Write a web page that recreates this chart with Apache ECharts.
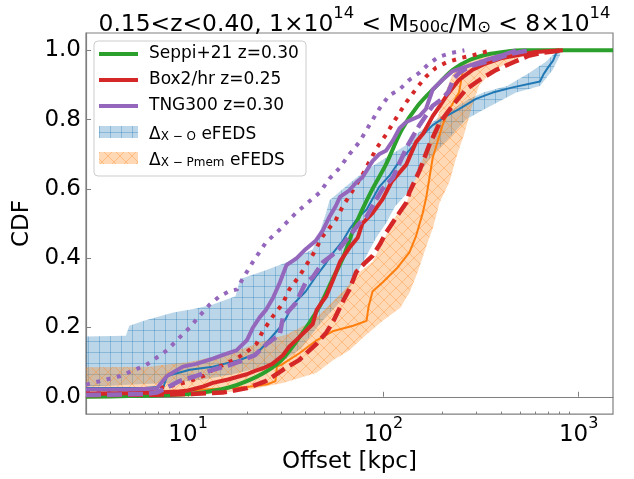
<!DOCTYPE html>
<html>
<head>
<meta charset="utf-8">
<script src="https://cdn.jsdelivr.net/npm/echarts@6.0.0/dist/echarts.min.js"></script>
<style>
  html, body { margin: 0; padding: 0; background: #ffffff; }
  #main { width: 634px; height: 479px; }
</style>
</head>
<body>
<div id="main"></div>
<script>
// ---- Cumulative offset distributions, [offset in kpc, CDF] ----
const seppiZ030 = [[3,0.0],[5,0.002],[7,0.004],[10,0.008],[13,0.016],[16,0.026],[20,0.045],[25,0.072],[30,0.105],[37,0.17],[47,0.26],[55,0.34],[62,0.40],[70,0.48],[78,0.54],[88,0.60],[103,0.67],[124,0.77],[150,0.84],[186,0.896],[226,0.943],[276,0.972],[340,0.988],[420,0.996],[520,1.0],[1500,1.0]];

const box2Solid = [[3,0.008],[5,0.01],[7,0.012],[9,0.015],[10,0.018],[12,0.03],[13.4,0.04],[16,0.05],[20,0.065],[22,0.075],[24.4,0.083],[27,0.095],[30.6,0.12],[33,0.145],[36,0.165],[40,0.19],[43.5,0.21],[45.5,0.25],[48,0.27],[51,0.29],[55.5,0.34],[60,0.39],[67,0.43],[74,0.46],[78,0.5],[88,0.53],[99,0.57],[110,0.62],[131,0.67],[147,0.735],[160,0.76],[179,0.81],[195,0.84],[210,0.868],[244,0.915],[285,0.943],[334,0.962],[400,0.977],[483,0.986],[600,0.995],[830,1.0]];

const box2Dashed = [[3,0.005],[7,0.006],[10,0.008],[15,0.012],[20,0.025],[25,0.045],[30.6,0.078],[37,0.106],[45.5,0.153],[51,0.185],[55.5,0.219],[62,0.275],[67,0.31],[72.6,0.36],[80,0.385],[88,0.407],[96,0.44],[103,0.473],[117,0.52],[131,0.56],[136,0.59],[153,0.652],[172,0.727],[194,0.79],[226,0.84],[265,0.887],[312,0.915],[376,0.943],[470,0.967],[560,0.985],[650,0.993],[830,1.0]];

const box2Dotted = [[3,0.018],[6,0.02],[7,0.025],[8,0.03],[10.2,0.045],[12,0.06],[13.4,0.078],[15.5,0.095],[17.7,0.11],[20,0.13],[22.4,0.153],[24,0.187],[27,0.23],[30.6,0.27],[33,0.31],[37.3,0.35],[43.5,0.41],[49,0.464],[57,0.51],[62,0.55],[67,0.58],[78,0.64],[85,0.68],[93,0.72],[103,0.756],[115,0.80],[131,0.85],[150,0.895],[166,0.925],[186,0.95],[210,0.965],[250,0.978],[285,0.985],[330,0.995],[360,1.0]];

const tngSolid = [[3,0.021],[5,0.021],[6.9,0.024],[7.8,0.06],[9.4,0.087],[11,0.095],[13.4,0.11],[15,0.12],[17.7,0.134],[20,0.163],[21.5,0.2],[23.3,0.23],[25,0.25],[27.2,0.285],[29.5,0.33],[31.9,0.38],[36,0.40],[40,0.426],[45,0.45],[49,0.48],[53,0.52],[57,0.55],[60,0.577],[67,0.596],[73,0.62],[78,0.633],[88,0.68],[95,0.70],[103,0.71],[112,0.74],[121,0.775],[131,0.793],[153,0.81],[165,0.83],[179,0.887],[201,0.915],[225,0.939],[265,0.953],[334,0.972],[400,0.985],[478,1.0]];

const tngDashed = [[3,0.005],[6,0.008],[6.9,0.012],[8,0.03],[9.1,0.046],[11,0.06],[13.4,0.078],[16,0.09],[18,0.1],[22,0.12],[25,0.15],[29.5,0.18],[30.6,0.23],[33,0.25],[35.6,0.27],[40,0.33],[43.5,0.345],[49,0.388],[55,0.41],[60,0.43],[67,0.464],[75,0.5],[82,0.52],[90,0.56],[99,0.6],[112,0.633],[131,0.718],[153,0.784],[179,0.84],[200,0.86],[215,0.88],[230,0.92],[245,0.935],[276,0.953],[363,0.972],[450,0.99],[560,1.0]];

const tngDotted = [[3,0.035],[4.5,0.06],[6.1,0.092],[7.8,0.134],[9,0.17],[10.2,0.2],[11.5,0.235],[12.9,0.266],[14.5,0.29],[16.3,0.305],[17.8,0.31],[19,0.34],[21.4,0.388],[25,0.445],[29.5,0.483],[35.6,0.53],[40,0.555],[47.3,0.59],[53,0.63],[59.6,0.66],[67,0.70],[75.3,0.735],[85,0.785],[95,0.83],[107,0.87],[121,0.887],[136,0.915],[152,0.934],[170,0.96],[192,0.981],[220,0.992],[260,1.0]];

// eFEDS X-ray to optical offsets: median CDF and its envelope
const xoMedian = [[3,0.025],[6,0.025],[7.5,0.03],[7.8,0.06],[10.2,0.078],[13.4,0.087],[18.4,0.106],[22.4,0.125],[25,0.153],[29.5,0.2],[32,0.23],[34.4,0.266],[40,0.304],[45.5,0.35],[50,0.38],[55.5,0.417],[62,0.45],[67,0.483],[75,0.52],[82,0.54],[95,0.605],[108,0.64],[121,0.68],[135,0.71],[153,0.746],[179,0.784],[210,0.81],[244,0.83],[298,0.86],[363,0.878],[460,0.893],[634,0.91],[660,0.93],[696,0.95],[740,0.97],[765,0.99],[790,1.0]];
const xoUpper = [[3,0.174],[4.8,0.176],[5,0.205],[6,0.22],[8.4,0.243],[11,0.255],[13.4,0.266],[17.5,0.29],[18.5,0.34],[25,0.365],[32,0.388],[43.5,0.426],[47,0.473],[50.8,0.53],[53,0.567],[62,0.6],[72,0.63],[85,0.66],[103,0.69],[131,0.727],[153,0.765],[186,0.80],[226,0.83],[276,0.86],[330,0.88],[430,0.897],[560,0.935],[680,0.967],[765,0.995],[790,1.0]];
const xoLower = [[3,0.03],[8,0.04],[12,0.05],[17,0.065],[21,0.078],[30,0.10],[38,0.14],[45,0.195],[49,0.22],[57,0.26],[65,0.30],[78,0.385],[92,0.46],[103,0.5],[115,0.55],[136,0.595],[150,0.64],[180,0.70],[220,0.75],[265,0.80],[320,0.826],[396,0.854],[478,0.878],[634,0.897],[736,0.943],[803,0.986],[810,1.0]];

// eFEDS X-ray to member-probability-weighted offsets
const xpMedian = [[3,0.012],[10,0.018],[20,0.028],[25.5,0.036],[28,0.045],[28.5,0.087],[30,0.092],[37,0.125],[45.5,0.163],[55.5,0.19],[70,0.205],[82,0.219],[84,0.26],[88,0.304],[99,0.33],[117,0.37],[136,0.417],[147,0.464],[159,0.53],[166,0.577],[179,0.69],[201,0.784],[218,0.83],[244,0.878],[254,0.934],[270,0.955],[350,0.975],[500,0.99],[650,1.0]];
const xpUpper = [[3,0.085],[6.5,0.087],[7,0.09],[10,0.10],[16.3,0.125],[25,0.163],[32,0.18],[43.5,0.219],[49,0.247],[62,0.304],[75.7,0.36],[88,0.39],[100,0.45],[112,0.51],[131,0.558],[147,0.633],[186,0.79],[205,0.87],[226,0.93],[250,0.955],[300,0.98],[400,0.995],[480,1.0]];
const xpLower = [[3,-0.005],[10,0.0],[20.7,0.021],[30.6,0.04],[45.5,0.069],[55.5,0.106],[67,0.134],[82,0.18],[99,0.219],[122,0.257],[136,0.30],[150,0.36],[165,0.43],[180,0.49],[194,0.56],[218,0.62],[236,0.69],[260,0.76],[285,0.84],[310,0.90],[360,0.94],[480,0.975],[560,0.99],[650,1.0]];

// ---- Axis ticks ----
const xMajorTicks = [10, 100, 1000];
const xMajorExponents = ['1', '2', '3'];
const xMinorTicks = [3,4,5,6,7,8,9,20,30,40,50,60,70,80,90,200,300,400,500,600,700,800,900];
const yTicks = [0, 0.2, 0.4, 0.6, 0.8, 1.0];

// ---- Legend entries ----
const legendLabels = ['Seppi+21 z=0.30', 'Box2/hr z=0.25', 'TNG300 z=0.30'];

const FONT = 'DejaVu Sans';
const C = { blue: '#1f77b4', orange: '#ff7f0e', green: '#2ca02c', red: '#d62728', purple: '#9467bd' };

// Hatched translucent fills (grid for X-O, crosses for X-Pmem)
function hatchPattern(kind, size, fill, stroke) {
  const cv = document.createElement('canvas');
  cv.width = size; cv.height = size;
  const g = cv.getContext('2d');
  g.fillStyle = fill;
  g.fillRect(0, 0, size, size);
  g.strokeStyle = stroke;
  g.lineWidth = 1;
  g.beginPath();
  if (kind === 'grid') {
    g.moveTo(0.5, 0); g.lineTo(0.5, size);
    g.moveTo(0, 0.5); g.lineTo(size, 0.5);
  } else {
    g.moveTo(0, 0); g.lineTo(size, size);
    g.moveTo(size, 0); g.lineTo(0, size);
  }
  g.stroke();
  return { image: cv, repeat: 'repeat' };
}
const bluePattern = hatchPattern('grid', 11, 'rgba(31,119,180,0.3)', 'rgba(31,119,180,0.33)');
const orangePattern = hatchPattern('cross', 12, 'rgba(255,127,14,0.3)', 'rgba(255,127,14,0.33)');

function bandSeries(name, upper, lower, pattern) {
  const outline = upper.concat(lower.slice().reverse());
  return {
    type: 'custom', name: name, silent: true, clip: true,
    data: [upper[0]],
    renderItem: function (params, api) {
      return {
        type: 'polygon',
        shape: { points: outline.map(function (p) { return api.coord(p); }) },
        style: { fill: pattern, stroke: null }
      };
    }
  };
}

function lineSeries(name, data, color, width, dash, smooth) {
  return {
    type: 'line', name: name, data: data, symbol: 'none', silent: true,
    smooth: smooth || false, clip: true,
    lineStyle: { color: color, width: width, type: dash || 'solid', cap: 'butt', join: 'round' }
  };
}

function richSet(base, small) {
  return {
    b: { fontFamily: FONT, fontSize: base, fontWeight: 'normal', color: '#000', lineHeight: 30, verticalAlign: 'bottom' },
    p: { fontFamily: FONT, fontSize: small, fontWeight: 'normal', color: '#000', lineHeight: 20, verticalAlign: 'top' },
    s: { fontFamily: FONT, fontSize: small, fontWeight: 'normal', color: '#000', lineHeight: 17, verticalAlign: 'bottom' }
  };
}
const axisRich = richSet(23, 16);
const titleRich = richSet(23.4, 16.4);

// Legend drawn as a framed block of line samples, hatched patches and labels
const legX = 94, legY = 41, rowY = [54, 80, 106, 132, 158];
const legendGraphics = [
  { type: 'rect', shape: { x: legX, y: legY, width: 212, height: 135, r: 4 },
    style: { fill: 'rgba(255,255,255,0.8)', stroke: '#cccccc', lineWidth: 1 }, z: 100 }
];
[C.green, C.red, C.purple].forEach(function (col, i) {
  legendGraphics.push({ type: 'line', shape: { x1: 99, y1: rowY[i], x2: 138, y2: rowY[i] },
    style: { stroke: col, lineWidth: 4 }, z: 101 });
  legendGraphics.push({ type: 'text', x: 149, y: rowY[i],
    style: { text: legendLabels[i], fontFamily: FONT, fontSize: 17, fill: '#000', verticalAlign: 'middle' }, z: 101 });
});
[[bluePattern, '{d|Δ}{s|X − O}{d| eFEDS}'], [orangePattern, '{d|Δ}{s|X − Pmem}{d| eFEDS}']].forEach(function (e, j) {
  const y = rowY[3 + j];
  legendGraphics.push({ type: 'rect', shape: { x: 99, y: y - 6, width: 39, height: 12 },
    style: { fill: e[0] }, z: 101 });
  legendGraphics.push({ type: 'text', x: 149, y: y,
    style: { text: e[1], verticalAlign: 'middle', fill: '#000',
      rich: {
        d: { fontFamily: FONT, fontSize: 17, lineHeight: 22, verticalAlign: 'bottom', fill: '#000' },
        s: { fontFamily: FONT, fontSize: 12, lineHeight: 13, verticalAlign: 'bottom', fill: '#000' }
      } }, z: 101 });
});

const chart = echarts.init(document.getElementById('main'), null, { renderer: 'canvas' });
chart.setOption({
  animation: false,
  backgroundColor: '#ffffff',
  title: {
    text: '{b|0.15<z<0.40, 1×10}{p|14}{b| < M}{s|500c}{b|/M}{s|⊙}{b| < 8×10}{p|14}',
    left: 349.5, top: 1, textAlign: 'center',
    textStyle: { fontWeight: 'normal', rich: titleRich }
  },
  grid: { left: 86, right: 21, top: 33, bottom: 57, show: true, borderColor: '#808080', borderWidth: 1.2, backgroundColor: 'transparent' },
  xAxis: [
    {
      type: 'log', logBase: 10, min: 3, max: 1500,
      axisLine: { show: true, lineStyle: { color: '#808080', width: 1.2 } },
      axisTick: { show: true, inside: true, length: 5, customValues: xMajorTicks, lineStyle: { color: '#808080' } },
      axisLabel: {
        customValues: xMajorTicks, margin: 2,
        formatter: function (v) {
          const i = xMajorTicks.indexOf(Math.round(v));
          return '{b|10}{p|' + xMajorExponents[i] + '}';
        },
        rich: axisRich
      },
      splitLine: { show: false },
      name: 'Offset [kpc]', nameLocation: 'middle', nameGap: 33,
      nameTextStyle: { fontFamily: FONT, fontSize: 23, color: '#000' }
    },
    {
      type: 'log', logBase: 10, min: 3, max: 1500, gridIndex: 0, position: 'bottom',
      axisLine: { show: false },
      axisTick: { show: true, inside: true, length: 2.5, customValues: xMinorTicks, lineStyle: { color: '#808080' } },
      axisLabel: { show: false },
      splitLine: { show: false }
    }
  ],
  yAxis: {
    type: 'value', min: -0.05, max: 1.05,
    axisLine: { show: true, lineStyle: { color: '#808080', width: 1.2 } },
    axisTick: { show: true, inside: true, length: 5, customValues: yTicks, lineStyle: { color: '#808080' } },
    axisLabel: {
      customValues: yTicks, margin: 5,
      formatter: function (v) { return v.toFixed(1); },
      fontFamily: FONT, fontSize: 23, color: '#000'
    },
    splitLine: { show: false },
    name: 'CDF', nameLocation: 'middle', nameGap: 37, nameRotate: 90,
    nameTextStyle: { fontFamily: FONT, fontSize: 23, color: '#000' }
  },
  series: [
    bandSeries('Δ X-O eFEDS', xoUpper, xoLower, bluePattern),
    bandSeries('Δ X-Pmem eFEDS', xpUpper, xpLower, orangePattern),
    lineSeries('X-O median', xoMedian, C.blue, 2),
    lineSeries('X-Pmem median', xpMedian, C.orange, 2),
    lineSeries('Seppi+21 z=0.30', seppiZ030, C.green, 4, 'solid', 0.3),
    lineSeries('Box2/hr z=0.25', box2Solid, C.red, 4),
    lineSeries('Box2/hr dashed', box2Dashed, C.red, 4.5, [15, 6]),
    lineSeries('Box2/hr dotted', box2Dotted, C.red, 4, [4, 6.6]),
    lineSeries('TNG300 z=0.30', tngSolid, C.purple, 4),
    lineSeries('TNG300 dashed', tngDashed, C.purple, 4.5, [15, 6]),
    lineSeries('TNG300 dotted', tngDotted, C.purple, 4, [4, 6.6])
  ],
  graphic: legendGraphics
});
</script>
</body>
</html>
